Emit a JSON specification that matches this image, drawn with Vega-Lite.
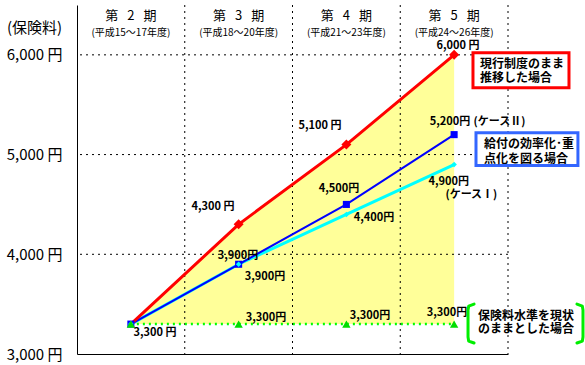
{
  "$schema": "https://vega.github.io/schema/vega-lite/v6.json",
  "width": 431,
  "height": 349,
  "autosize": {"type": "none"},
  "padding": {"left": 77, "top": 5, "right": 77, "bottom": 11},
  "background": "white",
  "config": {
    "view": {"stroke": null},
    "font": "Noto Sans CJK JP",
    "text": {"font": "Noto Sans CJK JP", "color": "black"}
  },
  "datasets": {
    "series": [
      {"p": 0.5, "current": 3300, "case2": 3300, "case1": 3300, "flat": 3300},
      {"p": 1.5, "current": 4300, "case2": 3900, "case1": 3900, "flat": 3300},
      {"p": 2.5, "current": 5100, "case2": 4500, "case1": 4400, "flat": 3300},
      {"p": 3.5, "current": 6000, "case2": 5200, "case1": 4900, "flat": 3300}
    ],
    "vgrid": [{"g": 1}, {"g": 2}, {"g": 3}, {"g": 4}],
    "hgrid": [{"g": 4000}, {"g": 5000}, {"g": 6000}],
    "headers": [
      {"x": 0.5, "y": 6390, "t": "第\u2002\u20092\u2002\u2009期"},
      {"x": 1.5, "y": 6390, "t": "第\u2002\u20093\u2002\u2009期"},
      {"x": 2.5, "y": 6390, "t": "第\u2002\u20094\u2002\u2009期"},
      {"x": 3.5, "y": 6390, "t": "第\u2002\u20095\u2002\u2009期"}
    ],
    "subheaders": [
      {"x": 0.5, "y": 6215, "t": "(平成15～17年度)"},
      {"x": 1.5, "y": 6215, "t": "(平成18～20年度)"},
      {"x": 2.5, "y": 6215, "t": "(平成21～23年度)"},
      {"x": 3.5, "y": 6215, "t": "(平成24～26年度)"}
    ],
    "valueLabels": [
      {"x": 0.724, "y": 3210, "t": "3,300 円"},
      {"x": 1.262, "y": 4470, "t": "4,300 円"},
      {"x": 2.255, "y": 5290, "t": "5,100 円"},
      {"x": 3.536, "y": 6090, "t": "6,000 円"},
      {"x": 1.494, "y": 3980, "t": "3,900円"},
      {"x": 1.745, "y": 3770, "t": "3,900円"},
      {"x": 2.432, "y": 4650, "t": "4,500円"},
      {"x": 2.756, "y": 4360, "t": "4,400円"},
      {"x": 1.754, "y": 3360, "t": "3,300円"},
      {"x": 2.719, "y": 3380, "t": "3,300円"},
      {"x": 3.434, "y": 3410, "t": "3,300円"},
      {"x": 3.462, "y": 5330, "t": "5,200円"},
      {"x": 3.45, "y": 4720, "t": "4,900円"}
    ],
    "caseLabels": [
      {"x": 3.68, "y": 5330, "t": "(ケースⅡ)"},
      {"x": 3.42, "y": 4590, "t": "(ケースⅠ)"}
    ],
    "legendText": [
      {"x": 3.74, "y": 5910, "t": "現行制度のまま"},
      {"x": 3.74, "y": 5770, "t": "推移した場合"},
      {"x": 3.777, "y": 5110, "t": "給付の効率化･重"},
      {"x": 3.777, "y": 4960, "t": "点化を図る場合"},
      {"x": 3.722, "y": 3380, "t": "保険料水準を現状"},
      {"x": 3.722, "y": 3250, "t": "のままとした場合"}
    ],
    "redBox": [{"x": 3.675, "x2": 4.566, "y": 6020, "y2": 5670}],
    "blueBox": [{"x": 3.703, "x2": 4.649, "y": 5220, "y2": 4890}],
    "brackets": [
      {"b": "L", "o": 1, "x": 3.685, "y": 3500},
      {"b": "L", "o": 2, "x": 3.635, "y": 3480},
      {"b": "L", "o": 3, "x": 3.629, "y": 3440},
      {"b": "L", "o": 4, "x": 3.629, "y": 3170},
      {"b": "L", "o": 5, "x": 3.635, "y": 3130},
      {"b": "L", "o": 6, "x": 3.685, "y": 3110},
      {"b": "R", "o": 1, "x": 4.640, "y": 3500},
      {"b": "R", "o": 2, "x": 4.690, "y": 3480},
      {"b": "R", "o": 3, "x": 4.696, "y": 3440},
      {"b": "R", "o": 4, "x": 4.696, "y": 3170},
      {"b": "R", "o": 5, "x": 4.690, "y": 3130},
      {"b": "R", "o": 6, "x": 4.640, "y": 3110}
    ]
  },
  "layer": [
    {
      "data": {"name": "series"},
      "mark": {"type": "area", "color": "#FFFF99", "opacity": 1},
      "encoding": {
        "x": {"field": "p", "type": "quantitative", "scale": {"domain": [0, 4], "nice": false},
          "axis": {"values": [1, 2, 3, 4], "grid": false, "labels": false, "ticks": false, "title": null, "domainColor": "black", "domainWidth": 1}},
        "y": {"field": "current", "type": "quantitative", "scale": {"domain": [3000, 6500], "nice": false, "zero": false},
          "axis": {"values": [3000, 4000, 5000, 6000], "grid": false, "ticks": false, "labelExpr": "format(datum.value, ',') + ' 円'", "labelFontSize": 15, "labelColor": "black", "labelPadding": 15, "labelFont": "Noto Sans CJK JP", "domainColor": "black", "domainWidth": 1,
            "title": "(保険料)", "titleAngle": 0, "titleX": -43, "titleY": 22, "titleAlign": "center", "titleBaseline": "middle", "titleFontSize": 15, "titleFontWeight": "normal", "titleColor": "black", "titleFont": "Noto Sans CJK JP"}},
        "y2": {"field": "flat"}
      }
    },
    {
      "data": {"name": "vgrid"},
      "mark": {"type": "rule", "color": "black", "strokeWidth": 1, "strokeDash": [2, 4]},
      "encoding": {"x": {"field": "g", "type": "quantitative", "scale": {"domain": [0, 4], "nice": false}}}
    },
    {
      "data": {"name": "hgrid"},
      "mark": {"type": "rule", "color": "black", "strokeWidth": 1, "strokeDash": [2, 4]},
      "encoding": {"y": {"field": "g", "type": "quantitative", "scale": {"domain": [3000, 6500], "nice": false, "zero": false}}}
    },
    {
      "data": {"name": "series"},
      "mark": {"type": "line", "color": "#00FF00", "strokeWidth": 2.5, "strokeDash": [2, 4]},
      "encoding": {
        "x": {"field": "p", "type": "quantitative", "scale": {"domain": [0, 4], "nice": false}},
        "y": {"field": "flat", "type": "quantitative", "scale": {"domain": [3000, 6500], "nice": false, "zero": false}}
      }
    },
    {
      "data": {"name": "series"},
      "mark": {"type": "line", "color": "#00FFFF", "strokeWidth": 3},
      "encoding": {
        "x": {"field": "p", "type": "quantitative", "scale": {"domain": [0, 4], "nice": false}},
        "y": {"field": "case1", "type": "quantitative", "scale": {"domain": [3000, 6500], "nice": false, "zero": false}}
      }
    },
    {
      "data": {"name": "series"},
      "mark": {"type": "line", "color": "#0000FF", "strokeWidth": 2},
      "encoding": {
        "x": {"field": "p", "type": "quantitative", "scale": {"domain": [0, 4], "nice": false}},
        "y": {"field": "case2", "type": "quantitative", "scale": {"domain": [3000, 6500], "nice": false, "zero": false}}
      }
    },
    {
      "data": {"name": "series"},
      "mark": {"type": "line", "color": "#FF0000", "strokeWidth": 3},
      "encoding": {
        "x": {"field": "p", "type": "quantitative", "scale": {"domain": [0, 4], "nice": false}},
        "y": {"field": "current", "type": "quantitative", "scale": {"domain": [3000, 6500], "nice": false, "zero": false}}
      }
    },
    {
      "data": {"name": "series"},
      "transform": [{"filter": "datum.p > 1"}],
      "mark": {"type": "point", "shape": "diamond", "filled": true, "size": 100, "color": "#FF0000", "opacity": 1},
      "encoding": {
        "x": {"field": "p", "type": "quantitative", "scale": {"domain": [0, 4], "nice": false}},
        "y": {"field": "current", "type": "quantitative", "scale": {"domain": [3000, 6500], "nice": false, "zero": false}}
      }
    },
    {
      "data": {"name": "series"},
      "mark": {"type": "point", "shape": "square", "filled": true, "size": 50, "color": "#0000FF", "opacity": 1},
      "encoding": {
        "x": {"field": "p", "type": "quantitative", "scale": {"domain": [0, 4], "nice": false}},
        "y": {"field": "case2", "type": "quantitative", "scale": {"domain": [3000, 6500], "nice": false, "zero": false}}
      }
    },
    {
      "data": {"name": "series"},
      "mark": {"type": "point", "shape": "diamond", "filled": true, "size": 30, "color": "#00FFFF", "opacity": 1},
      "encoding": {
        "x": {"field": "p", "type": "quantitative", "scale": {"domain": [0, 4], "nice": false}},
        "y": {"field": "case1", "type": "quantitative", "scale": {"domain": [3000, 6500], "nice": false, "zero": false}}
      }
    },
    {
      "data": {"name": "series"},
      "mark": {"type": "point", "shape": "triangle-up", "filled": true, "size": 70, "color": "#00DD00", "opacity": 1},
      "encoding": {
        "x": {"field": "p", "type": "quantitative", "scale": {"domain": [0, 4], "nice": false}},
        "y": {"field": "flat", "type": "quantitative", "scale": {"domain": [3000, 6500], "nice": false, "zero": false}}
      }
    },
    {
      "data": {"name": "headers"},
      "mark": {"type": "text", "fontSize": 13, "align": "center", "baseline": "middle"},
      "encoding": {
        "x": {"field": "x", "type": "quantitative", "scale": {"domain": [0, 4], "nice": false}},
        "y": {"field": "y", "type": "quantitative", "scale": {"domain": [3000, 6500], "nice": false, "zero": false}},
        "text": {"field": "t"}
      }
    },
    {
      "data": {"name": "subheaders"},
      "mark": {"type": "text", "fontSize": 10, "align": "center", "baseline": "middle"},
      "encoding": {
        "x": {"field": "x", "type": "quantitative", "scale": {"domain": [0, 4], "nice": false}},
        "y": {"field": "y", "type": "quantitative", "scale": {"domain": [3000, 6500], "nice": false, "zero": false}},
        "text": {"field": "t"}
      }
    },
    {
      "data": {"name": "valueLabels"},
      "mark": {"type": "text", "fontSize": 11, "fontWeight": "bold", "align": "center", "baseline": "middle"},
      "encoding": {
        "x": {"field": "x", "type": "quantitative", "scale": {"domain": [0, 4], "nice": false}},
        "y": {"field": "y", "type": "quantitative", "scale": {"domain": [3000, 6500], "nice": false, "zero": false}},
        "text": {"field": "t"}
      }
    },
    {
      "data": {"name": "caseLabels"},
      "mark": {"type": "text", "fontSize": 11, "fontWeight": "bold", "align": "left", "baseline": "middle"},
      "encoding": {
        "x": {"field": "x", "type": "quantitative", "scale": {"domain": [0, 4], "nice": false}},
        "y": {"field": "y", "type": "quantitative", "scale": {"domain": [3000, 6500], "nice": false, "zero": false}},
        "text": {"field": "t"}
      }
    },
    {
      "data": {"name": "redBox"},
      "mark": {"type": "rect", "fill": "white", "stroke": "#FF0000", "strokeWidth": 3},
      "encoding": {
        "x": {"field": "x", "type": "quantitative", "scale": {"domain": [0, 4], "nice": false}},
        "x2": {"field": "x2"},
        "y": {"field": "y", "type": "quantitative", "scale": {"domain": [3000, 6500], "nice": false, "zero": false}},
        "y2": {"field": "y2"}
      }
    },
    {
      "data": {"name": "blueBox"},
      "mark": {"type": "rect", "fill": "white", "stroke": "#3366FF", "strokeWidth": 3},
      "encoding": {
        "x": {"field": "x", "type": "quantitative", "scale": {"domain": [0, 4], "nice": false}},
        "x2": {"field": "x2"},
        "y": {"field": "y", "type": "quantitative", "scale": {"domain": [3000, 6500], "nice": false, "zero": false}},
        "y2": {"field": "y2"}
      }
    },
    {
      "data": {"name": "brackets"},
      "mark": {"type": "line", "color": "#00EE00", "strokeWidth": 3, "strokeJoin": "round", "strokeCap": "round"},
      "encoding": {
        "x": {"field": "x", "type": "quantitative", "scale": {"domain": [0, 4], "nice": false}},
        "y": {"field": "y", "type": "quantitative", "scale": {"domain": [3000, 6500], "nice": false, "zero": false}},
        "detail": {"field": "b"},
        "order": {"field": "o", "type": "quantitative"}
      }
    },
    {
      "data": {"name": "legendText"},
      "mark": {"type": "text", "fontSize": 12, "fontWeight": "bold", "align": "left", "baseline": "middle"},
      "encoding": {
        "x": {"field": "x", "type": "quantitative", "scale": {"domain": [0, 4], "nice": false}},
        "y": {"field": "y", "type": "quantitative", "scale": {"domain": [3000, 6500], "nice": false, "zero": false}},
        "text": {"field": "t"}
      }
    }
  ]
}
